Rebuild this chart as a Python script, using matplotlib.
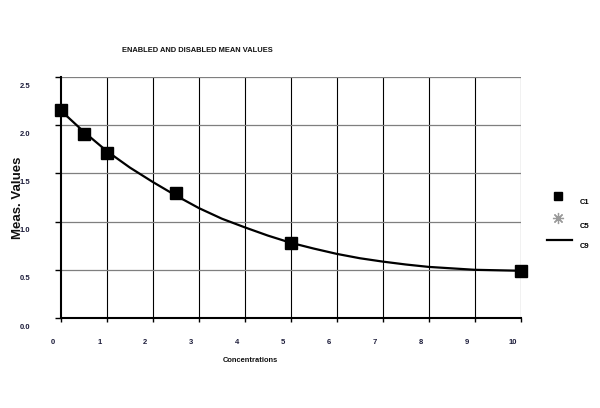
import matplotlib
matplotlib.use("Agg")
import matplotlib.pyplot as plt
from matplotlib.lines import Line2D
from matplotlib.transforms import ScaledTranslation

plt.rcParams['font.family'] = ['Liberation Sans', 'DejaVu Sans']

# measured points (C1)
conc = [0, 0.5, 1, 2.5, 5, 10]
meas = [2.16, 1.91, 1.71, 1.30, 0.78, 0.49]

# fitted curve (C9)
curve_x = [0, 0.5, 1, 1.5, 2, 2.5, 3, 3.5, 4, 4.5, 5, 5.5, 6, 6.5, 7, 7.5, 8, 8.5, 9, 9.5, 10]
curve_y = [2.15, 1.93, 1.73, 1.56, 1.41, 1.27, 1.14, 1.03, 0.94, 0.855, 0.78, 0.72,
           0.665, 0.62, 0.585, 0.555, 0.53, 0.515, 0.50, 0.495, 0.49]

xticks = list(range(11))
yticks = [0.0, 0.5, 1.0, 1.5, 2.0, 2.5]
ytick_labels = ["0.0", "0.5", "1.0", "1.5", "2.0", "2.5"]

fig = plt.figure(figsize=(6, 4.08), dpi=100)
ax = fig.add_axes([61 / 600, 1 - 318 / 408, (520.7 - 61) / 600, (318 - 77) / 408])

ax.plot(curve_x, curve_y, color='black', lw=1.6, zorder=3)
ax.plot(conc, meas, ls='none', marker='s', ms=8.5, color='black', zorder=4, clip_on=False)

ax.set_xlim(0, 10)
ax.set_ylim(0, 2.5)
ax.set_xticks(xticks)
ax.set_yticks(yticks)
ax.set_yticklabels(ytick_labels)

for x in xticks[1:]:
    ax.axvline(x, color='black', lw=0.8, zorder=1)
for y in yticks[1:]:
    ax.axhline(y, color='#7f7f7f', lw=0.9, zorder=1)

for s in ['top', 'right']:
    ax.spines[s].set_visible(False)
ax.spines['left'].set_linewidth(1.5)
ax.spines['bottom'].set_linewidth(1.5)

tick_color = '#1c1c3a'
ax.tick_params(axis='y', length=4, width=1, pad=18, labelsize=5.5, labelcolor=tick_color)
ax.tick_params(axis='x', length=3, width=1, pad=12, labelsize=5.5, labelcolor=tick_color)
for lab in ax.get_yticklabels():
    lab.set_fontweight('bold')
    lab.set_transform(lab.get_transform() + ScaledTranslation(0, -5.8 / 72, fig.dpi_scale_trans))
for lab in ax.get_xticklabels():
    lab.set_fontweight('bold')
    lab.set_transform(lab.get_transform() + ScaledTranslation(-5.5 / 72, 0, fig.dpi_scale_trans))

fig.text(122 / 600, 1 - 50 / 408, "ENABLED AND DISABLED MEAN VALUES",
         fontsize=5.4, fontweight='bold', va='center', ha='left', color='#111111')
fig.text(250 / 600, 1 - 361 / 408, "Concentrations",
         fontsize=5.4, fontweight='bold', va='center', ha='center', color='#111111')
fig.text(18 / 600, 1 - 198 / 408, "Meas. Values", rotation=90,
         fontsize=9.5, fontweight='bold', va='center', ha='center', color='#111111')

# legend
fig.add_artist(Line2D([558 / 600], [1 - 196 / 408], marker='s', ms=6, color='black', ls='none'))
fig.add_artist(Line2D([558 / 600], [1 - 218 / 408], marker=(8, 2, 0), ms=8, mew=0.9,
                      color='#9a9a9a', ls='none'))
fig.add_artist(Line2D([547 / 600, 572 / 600], [1 - 240 / 408, 1 - 240 / 408], color='black', lw=1.6))
for lbl, yp in [("C1", 203), ("C5", 226), ("C9", 247)]:
    fig.text(580 / 600, 1 - yp / 408, lbl, fontsize=5.5, fontweight='bold', va='center', ha='left')

fig.savefig("out.png", dpi=100)
